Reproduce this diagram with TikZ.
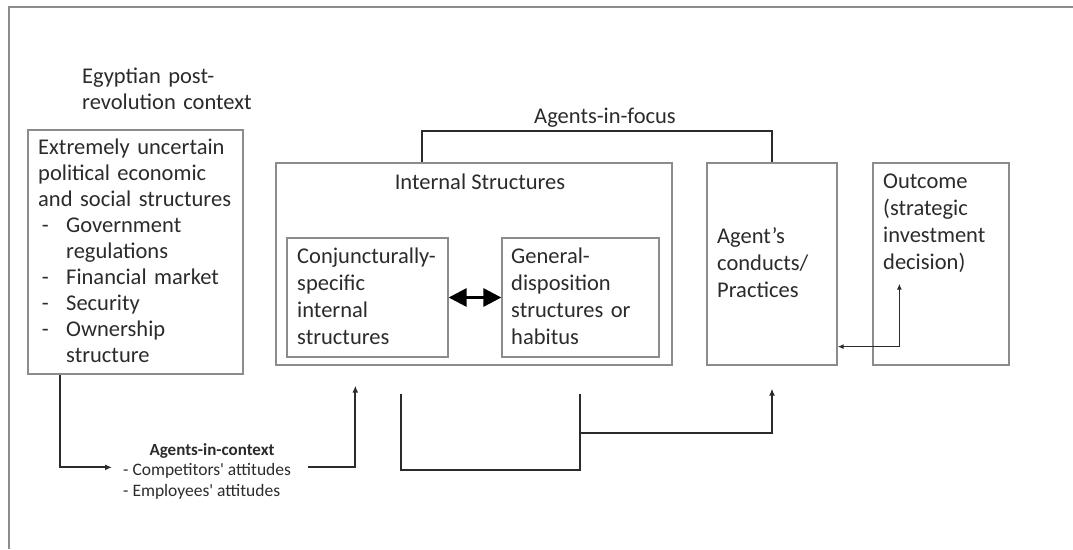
\documentclass[tikz,border=0pt]{standalone}
\usepackage{fontspec}
\setmainfont{Carlito}
\usetikzlibrary{arrows.meta}
\definecolor{boxgray}{HTML}{8C8C8C}
\definecolor{inkgray}{HTML}{2B2B2B}
\tikzset{
  box/.style={draw=boxgray, line width=1.3pt, inner sep=0pt},
  txt/.style={inner sep=0pt, align=left, text=inkgray, font=\fontsize{22.5}{26}\selectfont},
  wide/.style={font=\fontsize{22.5}{27.3}\selectfont},
  small/.style={inner sep=0pt, text=inkgray, font=\fontsize{17.5}{21}\selectfont},
  link/.style={draw=inkgray, line width=2pt},
  tip/.style={-{Latex[length=7pt,width=6pt]}},
}
\begin{document}
\begin{tikzpicture}[x=1pt,y=-1pt]
  \useasboundingbox (0,0) rectangle (1073,549);
  \draw[boxgray, line width=1.3pt] (9,549) -- (9,7) -- (1073,7);

  % boxes
  \node[box, minimum width=215pt, minimum height=244pt] (env) at (135.5,252) {};
  \node[box, minimum width=396pt, minimum height=202pt] (ints) at (474,264) {};
  \node[box, minimum width=161pt, minimum height=119pt] (conj) at (367.5,297.5) {};
  \node[box, minimum width=157pt, minimum height=119pt] (habit) at (580.5,297.5) {};
  \node[box, minimum width=130pt, minimum height=202pt] (agents) at (772,264) {};
  \node[box, minimum width=136pt, minimum height=202pt] (outc) at (941,264) {};

  % texts
  \node[txt, anchor=base west, text width=220pt] (egypt) at (82,83) {Egyptian post-\\revolution context};
  \node[txt, anchor=base west, text width=205pt] (envtxt) at (38,154) {Extremely uncertain\\political economic\\and social structures\\
    \makebox[28pt][l]{\,-}Government\\\hspace*{28pt}regulations\\
    \makebox[28pt][l]{\,-}Financial market\\
    \makebox[28pt][l]{\,-}Security\\
    \makebox[28pt][l]{\,-}Ownership\\\hspace*{28pt}structure};
  \node[txt, anchor=base] (intstitle) at (480,189) {Internal Structures};
  \node[txt, wide, anchor=base west, text width=155pt] (conjtxt) at (297,263) {Conjuncturally-\\specific\\internal\\structures};
  \node[txt, wide, anchor=base west, text width=150pt] (habittxt) at (511,263) {General-\\disposition\\structures or\\habitus};
  \node[txt, anchor=base west, text width=120pt, font=\fontsize{22.5}{27}\selectfont] (agentstxt) at (717,243) {Agent’s\\conducts/\\Practices};
  \node[txt, anchor=base west, text width=125pt, font=\fontsize{22.5}{27}\selectfont] (outctxt) at (883,188) {Outcome\\(strategic\\investment\\decision)};
  \node[txt, anchor=base] (focus) at (605,123) {Agents-in-focus};
  \node[small, anchor=base, font=\fontsize{17}{21}\selectfont\bfseries] (agctx) at (212,455) {Agents-in-context};
  \node[small, anchor=base west, inner xsep=11pt] (comp) at (112,475) {- Competitors\textquotesingle\ attitudes};
  \node[small, anchor=base west, inner xsep=11pt] (empl) at (112,496) {- Employees\textquotesingle\ attitudes};

  % connectors
  \draw[link, tip] ([xshift=33pt]env.south west) |- ([yshift=3pt]comp.west);
  \draw[link, tip] ([xshift=6pt,yshift=3pt]comp.east) -| ([xshift=80pt,yshift=-20pt]ints.south west);

  \coordinate (bl) at ([xshift=126pt,yshift=-28pt]ints.south west);
  \coordinate (br) at ([xshift=305pt,yshift=-28pt]ints.south west);
  \draw[link] (bl) -- ++(0,76) -| (br);
  \draw[link, tip] ([yshift=-39pt]br) -| ([yshift=-23pt]agents.south);

  \draw[link] ([xshift=147pt]ints.north west) -- ++(0,-31) -| (agents.north);

  \draw[draw=black, line width=3pt, {Triangle[length=18pt,width=18pt]}-{Triangle[length=18pt,width=18pt]}] (conj.east) -- (habit.west);

  \draw[link, line width=1.6pt, {Latex[length=6pt,width=5pt]}-{Latex[length=6pt,width=5pt]}] ([yshift=19pt]agents.south east) -| ([xshift=27pt,yshift=82pt]outc.south west);
\end{tikzpicture}
\end{document}
